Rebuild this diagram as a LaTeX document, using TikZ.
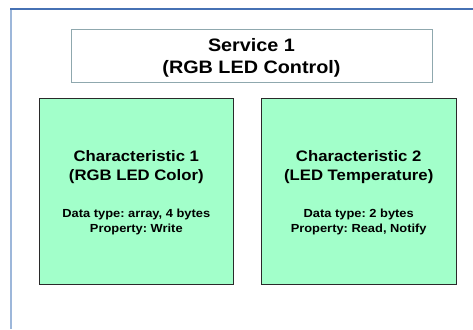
\documentclass[tikz,border=0pt]{standalone}
\usepackage{fontspec}
\newfontfamily\labfont[FakeStretch=1.1]{Liberation Sans}
\frenchspacing
\definecolor{frametop}{HTML}{4671B4}
\definecolor{frameleft}{HTML}{9DB7DA}
\definecolor{svcline}{HTML}{8FA8AE}
\definecolor{charfill}{HTML}{A2FFCA}
\definecolor{charline}{HTML}{2A2A2A}
\tikzset{
  svcbox/.style={draw=svcline, line width=1pt, fill=white},
  charbox/.style={draw=charline, line width=1pt, fill=charfill},
  titletext/.style={anchor=base, inner sep=0pt, font=\labfont\bfseries\fontsize{18}{22}\selectfont},
  headtext/.style={anchor=base, inner sep=0pt, font=\labfont\bfseries\fontsize{15.2}{19}\selectfont},
  infotext/.style={anchor=base, inner sep=0pt, font=\labfont\bfseries\fontsize{11.7}{15}\selectfont},
}
\begin{document}
\begin{tikzpicture}[x=1pt, y=-1pt]
  \useasboundingbox (0,0) rectangle (473,329);
  % page frame
  \draw[frameleft, line width=2pt] (11,9) -- (11,329);
  \draw[frametop, line width=1.4pt] (10,9) -- (473,9);
  % service box
  \draw[svcbox] (71,29.5) rectangle (432,82);
  \node[titletext] (svc1) at (251.5,51.3) {Service 1};
  \node[titletext] (svc2) at (251.5,73.7) {(RGB LED Control)};
  % characteristic 1
  \draw[charbox] (39,98) rectangle (233.5,284);
  \node[headtext] (c1a) at (136.3,161) {Characteristic 1};
  \node[headtext] (c1b) at (136.3,180.5) {(RGB LED Color)};
  \node[infotext] (c1c) at (136.3,217.3) {Data type: array, 4 bytes};
  \node[infotext] (c1d) at (136.3,232.3) {Property: Write};
  % characteristic 2
  \draw[charbox] (261.5,98) rectangle (456,284);
  \node[headtext] (c2a) at (358.7,161) {Characteristic 2};
  \node[headtext] (c2b) at (358.7,180.5) {(LED Temperature)};
  \node[infotext] (c2c) at (358.7,217.3) {Data type: 2 bytes};
  \node[infotext] (c2d) at (358.7,232.3) {Property: Read, Notify};
\end{tikzpicture}
\end{document}
